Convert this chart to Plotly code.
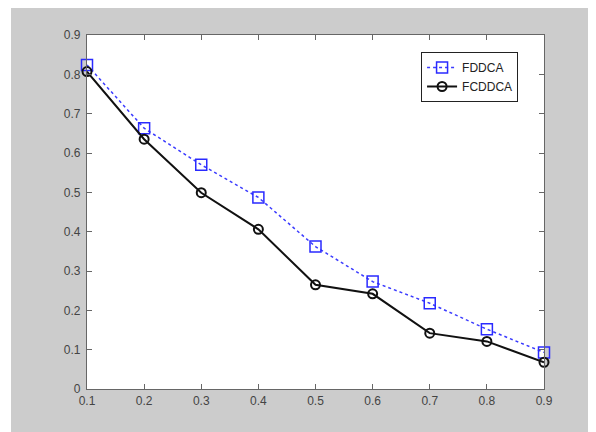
import plotly.graph_objects as go

x_vals = [0.1, 0.2, 0.3, 0.4, 0.5, 0.6, 0.7, 0.8, 0.9]
fddca = [0.824, 0.663, 0.570, 0.487, 0.362, 0.273, 0.218, 0.152, 0.093]
fcddca = [0.807, 0.635, 0.499, 0.406, 0.265, 0.242, 0.142, 0.121, 0.068]
x_ticks = [0.1, 0.2, 0.3, 0.4, 0.5, 0.6, 0.7, 0.8, 0.9]
x_tick_text = ["0.1", "0.2", "0.3", "0.4", "0.5", "0.6", "0.7", "0.8", "0.9"]
y_ticks = [0, 0.1, 0.2, 0.3, 0.4, 0.5, 0.6, 0.7, 0.8, 0.9]
y_tick_text = ["0", "0.1", "0.2", "0.3", "0.4", "0.5", "0.6", "0.7", "0.8", "0.9"]

fig = go.Figure()
fig.add_trace(go.Scatter(
    x=x_vals, y=fddca, name="FDDCA", mode="lines+markers",
    line=dict(color="#3b3bff", width=1.5, dash="dot"),
    marker=dict(symbol="square-open", size=11, color="#2a2aff", line=dict(width=1.5)),
    cliponaxis=False,
))
fig.add_trace(go.Scatter(
    x=x_vals, y=fcddca, name="FCDDCA", mode="lines+markers",
    line=dict(color="#111111", width=2),
    marker=dict(symbol="circle-open", size=9, color="#111111", line=dict(width=2)),
    cliponaxis=False,
))

axis_common = dict(
    showgrid=False, zeroline=False, showline=True, linecolor="#666666", linewidth=1.2,
    mirror="ticks", ticks="inside", ticklen=5, tickcolor="#666666", tickwidth=1,
    tickfont=dict(family="Arial, Liberation Sans, sans-serif", size=12, color="#444444"),
)
fig.update_xaxes(range=[0.1, 0.9], tickvals=x_ticks, ticktext=x_tick_text, **axis_common)
fig.update_yaxes(range=[0, 0.9], tickvals=y_ticks, ticktext=y_tick_text,
                 ticklabelstandoff=3, **axis_common)

fig.update_layout(
    width=596, height=432,
    margin=dict(l=79, r=60, t=27, b=51),
    paper_bgcolor="#cccccc", plot_bgcolor="#ffffff",
    showlegend=True,
    legend=dict(
        x=0.731, y=0.952, xanchor="left", yanchor="top",
        bgcolor="#ffffff", bordercolor="#222222", borderwidth=1,
        font=dict(family="Arial, Liberation Sans, sans-serif", size=12, color="#222222"),
        tracegroupgap=0, itemwidth=30,
    ),
    shapes=[
        dict(type="rect", xref="paper", yref="paper", x0=-0.3, x1=-76/457, y0=-0.3, y1=1.3,
             fillcolor="#ffffff", line=dict(width=0), layer="below"),
    ],
)

fig.write_html("out.html")
